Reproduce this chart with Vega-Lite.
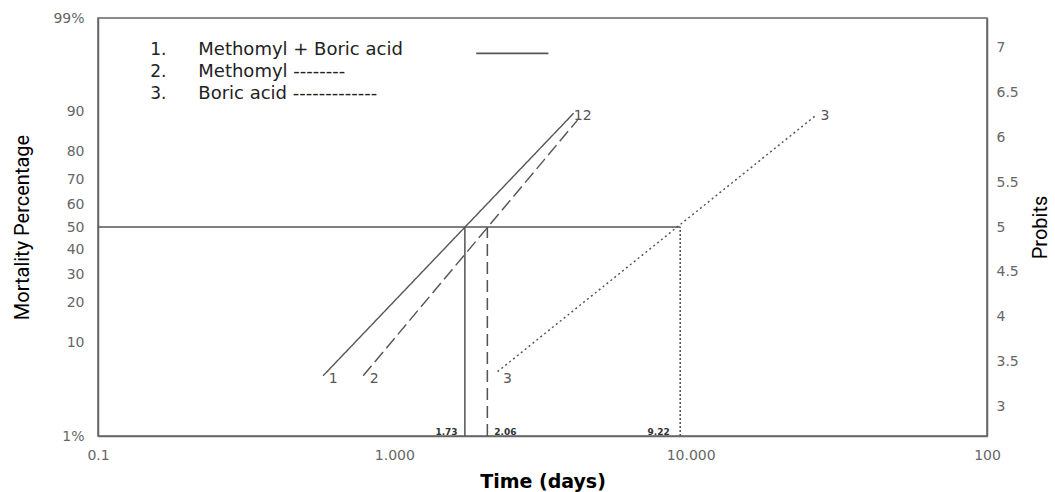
{
  "$schema": "https://vega.github.io/schema/vega-lite/v6.json",
  "width": 889,
  "height": 418,
  "autosize": "none",
  "padding": {"left": 98, "top": 18, "right": 68, "bottom": 56},
  "background": "white",
  "config": {
    "view": {"stroke": "#666", "strokeWidth": 1.5},
    "axis": {"grid": false, "ticks": false, "domainColor": "#666", "domainWidth": 1.5, "labelColor": "#666", "labelFont": "DejaVu Sans", "labelFontSize": 14, "labelOverlap": false, "labelFlush": false, "titleColor": "#000", "titleFontWeight": "normal"}
  },
  "datasets": {
    "lines": [
      {"seg": "L1", "o": 1, "x": 0.575, "y": 3.344},
      {"seg": "L1", "o": 2, "x": 4.03, "y": 6.267},
      {"seg": "L2", "o": 1, "x": 0.785, "y": 3.344},
      {"seg": "L2", "o": 2, "x": 4.15, "y": 6.19},
      {"seg": "L3", "o": 1, "x": 2.23, "y": 3.39},
      {"seg": "L3", "o": 2, "x": 26.4, "y": 6.24},
      {"seg": "H", "o": 1, "x": 0.1, "y": 5},
      {"seg": "H", "o": 2, "x": 9.22, "y": 5},
      {"seg": "V1", "o": 1, "x": 1.73, "y": 2.6737},
      {"seg": "V1", "o": 2, "x": 1.73, "y": 5},
      {"seg": "V2", "o": 1, "x": 2.06, "y": 2.6737},
      {"seg": "V2", "o": 2, "x": 2.06, "y": 5},
      {"seg": "V3", "o": 1, "x": 9.22, "y": 2.6737},
      {"seg": "V3", "o": 2, "x": 9.22, "y": 5},
      {"seg": "LEG", "o": 1, "x": 1.89, "y": 6.933},
      {"seg": "LEG", "o": 2, "x": 3.31, "y": 6.933}
    ],
    "curveLabels": [
      {"x": 0.622, "y": 3.311, "t": "1"},
      {"x": 0.856, "y": 3.311, "t": "2"},
      {"x": 2.41, "y": 3.311, "t": "3"},
      {"x": 4.32, "y": 6.233, "t": "12"},
      {"x": 28.4, "y": 6.233, "t": "3"}
    ],
    "valueLabels": [
      {"x": 1.5, "y": 2.72, "t": "1.73"},
      {"x": 2.37, "y": 2.72, "t": "2.06"},
      {"x": 7.8, "y": 2.72, "t": "9.22"}
    ],
    "legendNum": [
      {"x": 0.15, "y": 6.967, "t": "1."},
      {"x": 0.15, "y": 6.722, "t": "2."},
      {"x": 0.15, "y": 6.478, "t": "3."}
    ],
    "legendName": [
      {"x": 0.218, "y": 6.967, "t": "Methomyl + Boric acid"},
      {"x": 0.218, "y": 6.722, "t": "Methomyl --------"},
      {"x": 0.218, "y": 6.478, "t": "Boric acid  -------------"}
    ]
  },
  "layer": [
    {
      "data": {"name": "lines"},
      "mark": {"type": "line", "color": "#555", "clip": true},
      "encoding": {
        "x": {"field": "x", "type": "quantitative", "scale": {"type": "log", "domain": [0.1, 100]},
          "axis": {"values": [0.1, 1, 10, 100], "title": "Time (days)", "titleFont": "DejaVu Sans", "titleFontSize": 19, "titleFontWeight": "bold", "titlePadding": 10, "labelPadding": 12,
            "labelExpr": "datum.value < 0.5 ? '0.1' : datum.value < 5 ? '1.000' : datum.value < 50 ? '10.000' : '100'"}},
        "y": {"field": "y", "type": "quantitative", "scale": {"type": "linear", "domain": [2.6737, 7.3263], "nice": false, "zero": false},
          "axis": {"orient": "left", "values": [2.6737, 3.7184, 4.1584, 4.4756, 4.7467, 5, 5.2533, 5.5244, 5.8416, 6.2816, 7.3263],
            "labelExpr": "datum.value < 3 ? '1%' : datum.value < 4 ? '10' : datum.value < 4.3 ? '20' : datum.value < 4.6 ? '30' : datum.value < 4.9 ? '40' : datum.value < 5.1 ? '50' : datum.value < 5.4 ? '60' : datum.value < 5.7 ? '70' : datum.value < 6 ? '80' : datum.value < 7 ? '90' : '99%'",
            "labelPadding": 14, "title": "Mortality Percentage", "titleFont": "Liberation Sans Narrow, Roboto", "titleFontSize": 20, "titlePadding": 20}},
        "order": {"field": "o", "type": "quantitative"},
        "strokeDash": {"field": "seg", "type": "nominal", "legend": null,
          "scale": {"domain": ["L1", "L2", "L3", "H", "V1", "V2", "V3", "LEG"], "range": [[1, 0], [13, 5], [2, 3], [1, 0], [1, 0], [12, 6], [2, 2], [1, 0]]}},
        "strokeWidth": {"field": "seg", "type": "nominal", "legend": null,
          "scale": {"domain": ["L1", "L2", "L3", "H", "V1", "V2", "V3", "LEG"], "range": [1.4, 1.6, 1.3, 1.2, 1.7, 2.3, 1.7, 1.1]}}
      }
    },
    {
      "data": {"name": "curveLabels"},
      "mark": {"type": "text", "font": "DejaVu Sans", "fontSize": 14, "color": "#555", "align": "center", "baseline": "middle"},
      "encoding": {
        "x": {"field": "x", "type": "quantitative", "scale": {"type": "log", "domain": [0.1, 100]}},
        "y": {"field": "y", "type": "quantitative", "scale": {"type": "linear", "domain": [2.6737, 7.3263], "nice": false, "zero": false},
          "axis": {"orient": "right", "values": [3, 3.5, 4, 4.5, 5, 5.5, 6, 6.5, 7], "format": "~g", "labelPadding": 9, "title": "Probits", "titleAngle": 270, "titleFont": "Liberation Sans Narrow, Roboto", "titleFontSize": 20, "titlePadding": 32}},
        "text": {"field": "t"}
      }
    },
    {
      "data": {"name": "valueLabels"},
      "mark": {"type": "text", "font": "DejaVu Sans", "fontSize": 9, "fontWeight": "bold", "color": "#333", "align": "center", "baseline": "middle"},
      "encoding": {
        "x": {"field": "x", "type": "quantitative", "scale": {"type": "log", "domain": [0.1, 100]}},
        "y": {"field": "y", "type": "quantitative", "scale": {"type": "linear", "domain": [2.6737, 7.3263], "nice": false, "zero": false}, "axis": null},
        "text": {"field": "t"}
      }
    },
    {
      "data": {"name": "legendNum"},
      "mark": {"type": "text", "font": "DejaVu Sans", "fontSize": 17, "color": "#222", "align": "left", "baseline": "middle"},
      "encoding": {
        "x": {"field": "x", "type": "quantitative", "scale": {"type": "log", "domain": [0.1, 100]}},
        "y": {"field": "y", "type": "quantitative", "scale": {"type": "linear", "domain": [2.6737, 7.3263], "nice": false, "zero": false}, "axis": null},
        "text": {"field": "t"}
      }
    },
    {
      "data": {"name": "legendName"},
      "mark": {"type": "text", "font": "DejaVu Sans", "fontSize": 18, "color": "#222", "align": "left", "baseline": "middle"},
      "encoding": {
        "x": {"field": "x", "type": "quantitative", "scale": {"type": "log", "domain": [0.1, 100]}},
        "y": {"field": "y", "type": "quantitative", "scale": {"type": "linear", "domain": [2.6737, 7.3263], "nice": false, "zero": false}, "axis": null},
        "text": {"field": "t"}
      }
    }
  ],
  "resolve": {"scale": {"y": "independent"}}
}
